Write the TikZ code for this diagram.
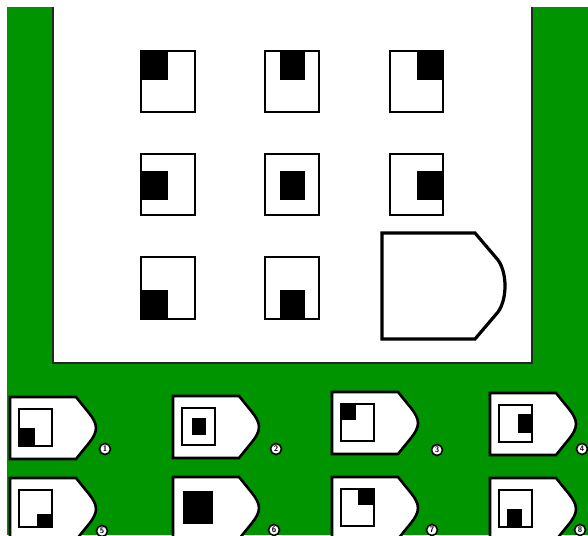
\documentclass[tikz,border=0pt]{standalone}
\definecolor{bggreen}{RGB}{0,148,0}
\tikzset{
  gridbox/.style={draw=black, line width=1.8pt},
  blk/.style={fill=black},
  optshape/.style={draw=black, line width=2.6pt, fill=white, line join=miter},
  innerbox/.style={draw=black, line width=2.8pt},
  numc/.style={circle, draw=black, fill=white, line width=1.6pt, inner sep=0pt,
    minimum size=11pt, font=\fontsize{8}{8}\selectfont\bfseries\sffamily}
}
\newcommand{\ansshape}{%
  \draw[optshape] (0,0) -- (66,0) -- (79,16) .. controls (83,21) and (86,26) .. (86,31)
    .. controls (86,36) and (83,41) .. (79,46) -- (66,62) -- (0,62) -- cycle;}
\begin{document}
\begin{tikzpicture}[x=1pt,y=-1pt]
\useasboundingbox (0,0) rectangle (588,535);
\fill[white] (0,0) rectangle (588,535);
\fill[bggreen] (7,7) rectangle (588,535);
% white panel
\fill[white] (53,0) rectangle (532,363);
\draw[black!85, line width=1.2pt] (53,7) -- (53,363) -- (532,363) -- (532,7);
% matrix row 1
\fill[blk] (141,51) rectangle (168,80);
\draw[gridbox] (141,51) rectangle (195,112);
\fill[blk] (280,51) rectangle (305,80);
\draw[gridbox] (265,51) rectangle (319,112);
\fill[blk] (417,51) rectangle (443,80);
\draw[gridbox] (390,51) rectangle (443,112);
% row 2
\fill[blk] (141,171) rectangle (168,200);
\draw[gridbox] (141,154) rectangle (195,215);
\fill[blk] (280,171) rectangle (305,200);
\draw[gridbox] (265,154) rectangle (319,215);
\fill[blk] (417,171) rectangle (443,200);
\draw[gridbox] (390,154) rectangle (443,215);
% row 3
\fill[blk] (141,290) rectangle (168,319);
\draw[gridbox] (141,257) rectangle (195,319);
\fill[blk] (280,290) rectangle (305,319);
\draw[gridbox] (265,257) rectangle (319,319);
% big empty shape
\begin{scope}[shift={(382,233)}]
\draw[black, line width=3.2pt, fill=white, line join=miter] (0,0) -- (93,0) -- (116,27)
  .. controls (121,34) and (123,44) .. (123,53)
  .. controls (123,62) and (121,72) .. (116,79) -- (93,106) -- (0,106) -- cycle;
\end{scope}
% option 1
\begin{scope}[shift={(10,397)}]
\ansshape
\fill[blk] (9,31) rectangle (25,49);
\draw[innerbox] (9,12) rectangle (42,49);
\end{scope}
% option 2
\begin{scope}[shift={(173,396)}]
\ansshape
\fill[blk] (19,22) rectangle (33,39);
\draw[innerbox] (9,12) rectangle (42,49);
\end{scope}
% option 3
\begin{scope}[shift={(332,392)}]
\ansshape
\fill[blk] (9,12) rectangle (24,28);
\draw[innerbox] (9,12) rectangle (42,49);
\end{scope}
% option 4
\begin{scope}[shift={(490,393)}]
\ansshape
\fill[blk] (28,21) rectangle (42,40);
\draw[innerbox] (9,12) rectangle (42,49);
\end{scope}
% option 5
\begin{scope}[shift={(10,478)}]
\ansshape
\fill[blk] (27,36) rectangle (42,49);
\draw[innerbox] (9,12) rectangle (42,49);
\end{scope}
% option 6
\begin{scope}[shift={(173,477)}]
\ansshape
\fill[blk] (10,14) rectangle (40,47);
\end{scope}
% option 7
\begin{scope}[shift={(332,477)}]
\ansshape
\fill[blk] (26,12) rectangle (42,28);
\draw[innerbox] (9,12) rectangle (42,49);
\end{scope}
% option 8
\begin{scope}[shift={(490,478)}]
\ansshape
\fill[blk] (17,31) rectangle (32,49);
\draw[innerbox] (9,12) rectangle (42,49);
\end{scope}
% numbers
\node[numc] (n1) at (105,449) {1};
\node[numc] (n2) at (276,449) {2};
\node[numc] (n3) at (437,450) {3};
\node[numc] (n4) at (582,449) {4};
\node[numc] (n5) at (102,531) {5};
\node[numc] (n6) at (274,530) {6};
\node[numc] (n7) at (432,530) {7};
\node[numc] (n8) at (580,530) {8};
\end{tikzpicture}
\end{document}
